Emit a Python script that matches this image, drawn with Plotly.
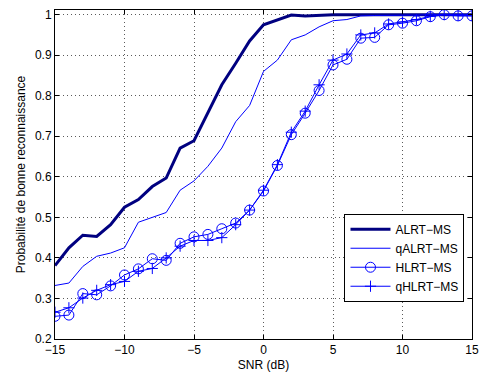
import plotly.graph_objects as go

snr = list(range(-15, 16))

alrt = [0.381, 0.425, 0.456, 0.453, 0.482, 0.525, 0.544, 0.576, 0.597, 0.671, 0.689,
        0.758, 0.827, 0.880, 0.935, 0.975, 0.987, 0.999, 0.997, 0.999, 1.0, 1.0,
        1.0, 1.0, 1.0, 1.0, 1.0, 1.0, 1.0, 1.0, 1.0]
qalrt = [0.332, 0.338, 0.379, 0.404, 0.412, 0.425, 0.488, 0.500, 0.512, 0.567, 0.590,
         0.626, 0.671, 0.736, 0.776, 0.860, 0.888, 0.938, 0.950, 0.970, 0.985, 0.988,
         0.997, 0.998, 0.998, 0.999, 0.999, 1.0, 1.0, 1.0, 1.0]
hlrt = [0.256, 0.259, 0.312, 0.309, 0.331, 0.358, 0.373, 0.398, 0.394, 0.436, 0.452,
        0.458, 0.472, 0.486, 0.518, 0.565, 0.628, 0.704, 0.757, 0.813, 0.876, 0.890,
        0.942, 0.944, 0.975, 0.979, 0.985, 0.995, 1.0, 0.997, 0.997]
qhlrt = [0.266, 0.277, 0.301, 0.320, 0.334, 0.342, 0.367, 0.374, 0.400, 0.429, 0.443,
         0.443, 0.450, 0.482, 0.518, 0.567, 0.630, 0.710, 0.762, 0.827, 0.888, 0.903,
         0.950, 0.955, 0.977, 0.982, 0.988, 0.996, 1.0, 0.998, 0.998]

x_ticks = [-15, -10, -5, 0, 5, 10, 15]
y_ticks = [0.2, 0.3, 0.4, 0.5, 0.6, 0.7, 0.8, 0.9, 1.0]
y_labels = ["0.2", "0.3", "0.4", "0.5", "0.6", "0.7", "0.8", "0.9", "1"]

navy = "rgb(0,0,128)"
blue = "rgb(0,0,255)"
FONT = "Liberation Sans, Arial"

fig = go.Figure()
fig.add_trace(go.Scatter(x=snr, y=alrt, mode="lines", name="ALRT\u2212MS",
                         line=dict(color=navy, width=3)))
fig.add_trace(go.Scatter(x=snr, y=qalrt, mode="lines", name="qALRT\u2212MS",
                         line=dict(color=blue, width=1)))
fig.add_trace(go.Scatter(x=snr, y=hlrt, mode="lines+markers", name="HLRT\u2212MS",
                         line=dict(color=blue, width=1),
                         marker=dict(symbol="circle-open", size=10, color=blue,
                                     line=dict(width=1, color=blue))))
fig.add_trace(go.Scatter(x=snr, y=qhlrt, mode="lines+markers", name="qHLRT\u2212MS",
                         line=dict(color=blue, width=1),
                         marker=dict(symbol="cross-thin-open", size=8, color=blue,
                                     line=dict(width=1, color=blue))))

axis_common = dict(showline=True, linecolor="black", linewidth=1, mirror="ticks",
                   ticks="inside", ticklen=4, tickcolor="black", automargin=False,
                   showgrid=True, gridcolor="rgb(90,90,90)", griddash="1px,3px", gridwidth=1,
                   zeroline=False, tickfont=dict(family=FONT, size=12, color="black"))

fig.update_xaxes(range=[-15, 15], tickvals=x_ticks,
                 ticktext=[str(v).replace("-", "\u2212") for v in x_ticks],
                 title=dict(text="SNR (dB)", font=dict(family=FONT, size=12, color="black"),
                            standoff=4),
                 **axis_common)
fig.update_yaxes(range=[0.2, 1.0115], tickvals=y_ticks, ticktext=y_labels,
                 title=dict(text="Probabilité de bonne reconnaissance",
                            font=dict(family=FONT, size=12, color="black"),
                            standoff=6),
                 **axis_common)

fig.update_layout(
    width=485, height=374,
    margin=dict(l=55, r=13, t=10, b=35, autoexpand=False),
    paper_bgcolor="white", plot_bgcolor="white",
    showlegend=True,
    legend=dict(x=0.982, y=0.247, xanchor="right", yanchor="middle",
                bgcolor="white", bordercolor="black", borderwidth=1,
                font=dict(family=FONT, size=12, color="black"),
                tracegroupgap=0, itemwidth=40),
)

fig.write_html("out.html", config={"displayModeBar": False},
               post_script="document.body.style.margin='0';document.body.style.overflow='hidden';")
